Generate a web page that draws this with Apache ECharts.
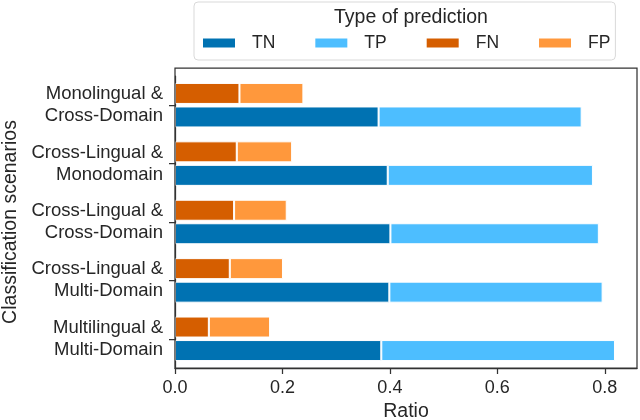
<!DOCTYPE html>
<html>
<head>
<meta charset="utf-8">
<script src="https://cdn.jsdelivr.net/npm/echarts@6/dist/echarts.min.js"></script>
<style>html,body{margin:0;padding:0;background:#fff}#c{width:640px;height:420px}</style>
</head>
<body>
<div id="c"></div>
<script>
var categories = ['Monolingual &\nCross-Domain', 'Cross-Lingual &\nMonodomain', 'Cross-Lingual &\nCross-Domain', 'Cross-Lingual &\nMulti-Domain', 'Multilingual &\nMulti-Domain'];
var tnValues = [0.379, 0.396, 0.401, 0.399, 0.384];
var tpValues = [0.378, 0.382, 0.388, 0.397, 0.435];
var fnValues = [0.120, 0.115, 0.110, 0.102, 0.063];
var fpValues = [0.119, 0.103, 0.098, 0.099, 0.114];
var xTicks = [0, 0.2, 0.4, 0.6, 0.8];

var FONT = '"Liberation Sans", Arial, Helvetica, sans-serif';
var TXT = '#262626';
var chart = echarts.init(document.getElementById('c'), null, {renderer: 'canvas'});
function bar(name, data, stack, color) {
  return {
    name: name, type: 'bar', stack: stack, data: data,
    barWidth: 21, barGap: '12%',
    itemStyle: {color: color, borderColor: '#ffffff', borderWidth: 1},
    emphasis: {disabled: true}
  };
}
chart.setOption({
  animation: false,
  textStyle: {fontFamily: FONT, color: TXT},
  title: {
    text: 'Type of prediction', left: 406, top: 3, textAlign: 'center',
    textStyle: {fontFamily: FONT, fontSize: 19.5, fontWeight: 'normal', color: TXT}
  },
  legend: {
    data: ['TN', 'TP', 'FN', 'FP'],
    left: 194, top: 2,
    padding: [32, 5, 8, 7],
    borderColor: '#d9d9d9', borderWidth: 1, borderRadius: 4,
    icon: 'rect', itemWidth: 34, itemHeight: 11, itemGap: 38,
    textStyle: {fontFamily: FONT, fontSize: 17.5, color: TXT, padding: [0, 0, 0, 11]}
  },
  graphic: [{
    type: 'rect', z: 10, silent: true,
    shape: {x: 175, y: 68, width: 462, height: 300},
    style: {fill: 'none', stroke: '#333333', lineWidth: 1.25}
  }],
  grid: {left: 175, right: 3, top: 76, bottom: 52, containLabel: false, outerBoundsMode: 'none'},
  xAxis: {
    type: 'value', min: 0, max: 0.86, interval: 0.2,
    name: 'Ratio', nameLocation: 'middle', nameGap: 30,
    nameTextStyle: {fontFamily: FONT, fontSize: 19.5, color: TXT},
    axisLine: {show: true, lineStyle: {color: '#333333', width: 1.25}},
    axisTick: {show: true, length: 6, lineStyle: {color: '#333333', width: 1.25}},
    axisLabel: {fontFamily: FONT, fontSize: 18, color: TXT, margin: 11, showMaxLabel: false,
      formatter: function (v) { return v.toFixed(1); }},
    splitLine: {show: false}
  },
  yAxis: {
    type: 'category', data: categories, inverse: true,
    name: 'Classification scenarios', nameLocation: 'middle', nameGap: 150,
    nameTextStyle: {fontFamily: FONT, fontSize: 19.5, color: TXT},
    axisLine: {show: true, lineStyle: {color: '#333333', width: 1.25}},
    axisTick: {show: true, alignWithLabel: true, length: 6, lineStyle: {color: '#333333', width: 1.25}},
    axisLabel: {fontFamily: FONT, fontSize: 18.5, color: TXT, margin: 12, lineHeight: 22, align: 'right'},
    splitLine: {show: false}
  },
  series: [
    bar('FN', fnValues, 'neg', '#D55E00'),
    bar('FP', fpValues, 'neg', '#FF983C'),
    bar('TN', tnValues, 'pos', '#0072B2'),
    bar('TP', tpValues, 'pos', '#4DBEFF')
  ]
});
</script>
</body>
</html>
